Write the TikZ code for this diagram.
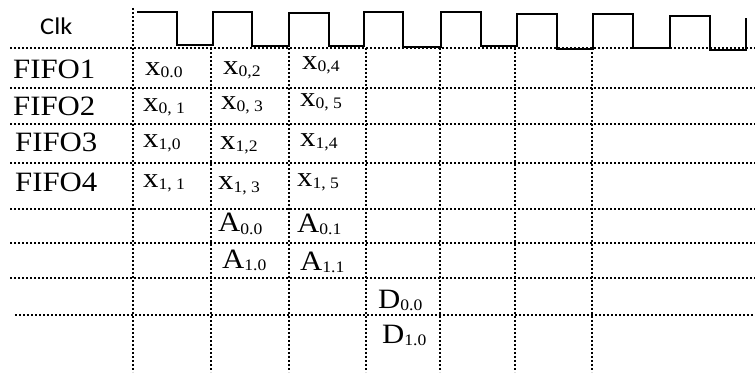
\documentclass[tikz,border=0pt]{standalone}
\usepackage{fontspec}
\setmainfont{Liberation Serif}[FakeStretch=1.1]
\newfontfamily\clkfont{Carlito}[FakeStretch=1.1]
\newcommand{\idx}[2]{#1{\fontsize{16}{16}\selectfont\raisebox{-2pt}{#2}}}

\begin{document}
\begin{tikzpicture}[x=1pt,y=-1pt,dotline/.style={line width=2.2pt,dash pattern=on 2.2pt off 1.8pt},lbl/.style={anchor=base west,inner sep=0pt,font=\fontsize{28}{28}\selectfont},wave/.style={line width=1.6pt}]
\useasboundingbox (0,0) rectangle (755,374);
% grid
\foreach \y in {48,88,124,163,209,243,278} \draw[dotline] (10,\y)--(755,\y);
\draw[dotline] (15,315)--(755,315);
\draw[dotline] (133,8)--(133,372);
\foreach \x in {211,289,366,440,515,592} \draw[dotline] (\x,48)--(\x,372);
% clock
\draw[wave] (137,12) -| (177,45) -| (213,12) -| (252,46) -| (289,13) -| (329,46) -| (364,12) -| (403,47) -| (441,12) -| (481,46) -| (517,14) -| (557,49) -| (593,14) -| (633,48) -| (670,16) -| (710,50) -| (746,18);
\node[lbl,font=\clkfont\fontsize{24}{24}\selectfont] (clk) at (40,35) {Clk};
% fifo rows
\node[lbl] (fifo1) at (13,79) {FIFO1};\node[lbl] (fifo2) at (13,116) {FIFO2};
\node[lbl] (fifo3) at (15,152) {FIFO3};\node[lbl] (fifo4) at (15,192) {FIFO4};
\node[lbl] (x00) at (145,76) {\idx{x}{0.0}};\node[lbl] (x02) at (223,75) {\idx{x}{0,2}};\node[lbl] (x04) at (302,70) {\idx{x}{0,4}};
\node[lbl] (x01) at (143,112) {\idx{x}{0, 1}};\node[lbl] (x03) at (221,110) {\idx{x}{0, 3}};\node[lbl] (x05) at (300,107) {\idx{x}{0, 5}};
\node[lbl] (x10) at (143,148) {\idx{x}{1,0}};\node[lbl] (x12) at (220,150) {\idx{x}{1,2}};\node[lbl] (x14) at (300,147) {\idx{x}{1,4}};
\node[lbl] (x11) at (143,188) {\idx{x}{1, 1}};\node[lbl] (x13) at (218,190) {\idx{x}{1, 3}};\node[lbl] (x15) at (297,187) {\idx{x}{1, 5}};
% adders and outputs
\node[lbl] (a00) at (218,232) {\idx{A}{0.0}};\node[lbl] (a01) at (297,233) {\idx{A}{0.1}};
\node[lbl] (a10) at (222,268) {\idx{A}{1.0}};\node[lbl] (a11) at (300,270) {\idx{A}{1.1}};
\node[lbl] (d00) at (378,308) {\idx{D}{0.0}};\node[lbl] (d10) at (382,343) {\idx{D}{1.0}};
\end{tikzpicture}
\end{document}
